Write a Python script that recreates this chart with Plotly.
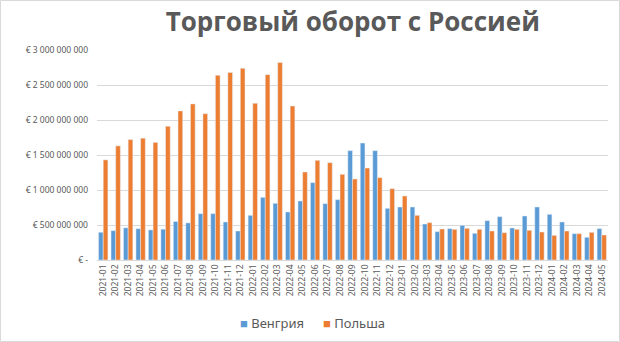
import plotly.graph_objects as go

# Monthly trade turnover with Russia, million EUR
months = [
    "2021-01", "2021-02", "2021-03", "2021-04", "2021-05", "2021-06",
    "2021-07", "2021-08", "2021-09", "2021-10", "2021-11", "2021-12",
    "2022-01", "2022-02", "2022-03", "2022-04", "2022-05", "2022-06",
    "2022-07", "2022-08", "2022-09", "2022-10", "2022-11", "2022-12",
    "2023-01", "2023-02", "2023-03", "2023-04", "2023-05", "2023-06",
    "2023-07", "2023-08", "2023-09", "2023-10", "2023-11", "2023-12",
    "2024-01", "2024-02", "2024-03", "2024-04", "2024-05",
]
hungary_m = [
    396, 419, 460, 447, 430, 440, 550, 530, 662, 662, 543, 414,
    638, 895, 810, 686, 843, 1105, 805, 862, 1562, 1671, 1562, 738,
    757, 757, 514, 405, 448, 495, 381, 562, 619, 457, 629, 757,
    652, 543, 376, 324, 448,
]
poland_m = [
    1430, 1630, 1720, 1740, 1680, 1910, 2130, 2230, 2090, 2638, 2680, 2738,
    2238, 2648, 2820, 2200, 1257, 1424, 1390, 1224, 1157, 1314, 1176, 1019,
    914, 638, 533, 443, 438, 452, 438, 414, 390, 438, 424, 400,
    352, 414, 376, 395, 357,
]
y_ticks = [0, 500_000_000, 1_000_000_000, 1_500_000_000,
           2_000_000_000, 2_500_000_000, 3_000_000_000]


def euro_label(v):
    if v == 0:
        return "€ -"
    return "€ " + f"{v:,}".replace(",", " ")


BLUE = "#5B9BD5"
ORANGE = "#ED7D31"
GREY = "#595959"

series = [("Венгрия", hungary_m, BLUE), ("Польша", poland_m, ORANGE)]

fig = go.Figure()
for name, vals, color in series:
    fig.add_trace(go.Bar(x=months, y=[v * 1e6 for v in vals],
                         name=name, marker_color=color, showlegend=False))

L, R, T, B = 97, 12, 50, 82
W, H = 620, 342
pw, ph = W - L - R, H - T - B

fig.update_layout(
    width=W, height=H,
    margin=dict(l=L, r=R, t=T, b=B),
    paper_bgcolor="white", plot_bgcolor="white",
    barmode="group", bargap=0.25, bargroupgap=0,
    title=dict(text="<b>Торговый оборот с Россией</b>",
               x=0.569, xanchor="center", y=1 - 22 / H, yanchor="middle",
               font=dict(family="Open Sans", size=26, color=GREY)),
    font=dict(family="Noto Sans", color=GREY),
)
fig.update_xaxes(type="category", tickangle=-90,
                 tickfont=dict(size=8.5, color=GREY),
                 showline=True, linecolor="#d9d9d9", ticks="",
                 showgrid=False)
fig.update_yaxes(range=[0, 3e9], tickvals=y_ticks,
                 ticktext=[euro_label(v) for v in y_ticks],
                 tickfont=dict(size=8.5, color=GREY),
                 gridcolor="#d9d9d9", gridwidth=1, zeroline=False,
                 showline=False, ticks="", ticklabelstandoff=8)

# compact legend: coloured square followed by the series name
legend_x = [238, 321]
for (name, _, color), lx in zip(series, legend_x):
    fig.add_annotation(
        xref="paper", yref="paper",
        x=(lx - L) / pw, y=-(323 - (T + ph)) / ph,
        xanchor="left", yanchor="middle", showarrow=False,
        text=f"<span style='color:{color}'>■</span> {name}",
        font=dict(size=13, color=GREY, family="Noto Sans"))

# thin frame around the whole chart
fig.add_shape(type="rect", xref="paper", yref="paper",
              x0=-L / pw + 0.5 / pw, x1=1 + (R - 0.5) / pw,
              y0=-B / ph + 0.5 / ph, y1=1 + (T - 0.5) / ph,
              line=dict(color="#d9d9d9", width=1), layer="below")

fig.write_html("out.html")
